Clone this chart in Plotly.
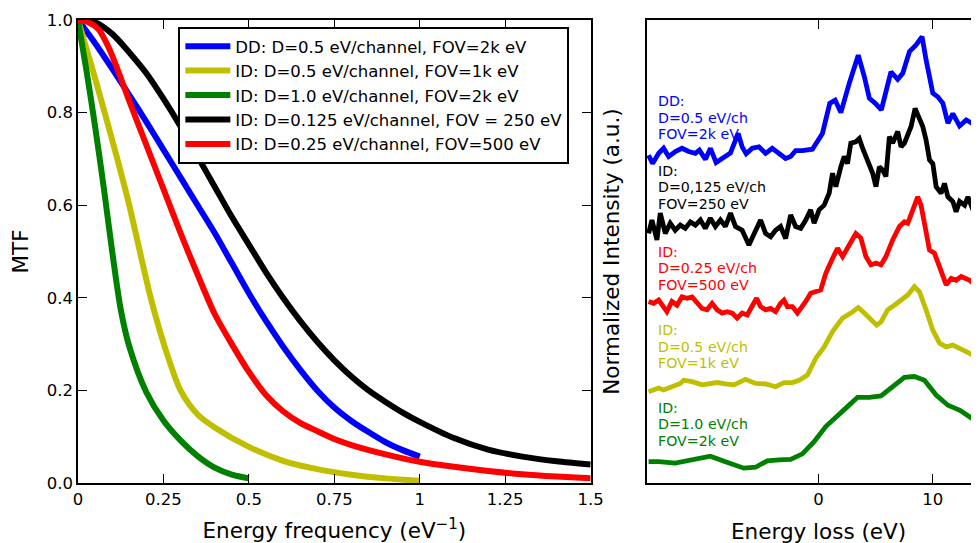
import plotly.graph_objects as go

# ---------------- Left panel: MTF vs energy frequency ----------------
labels_mtf = [
    "DD: D=0.5 eV/channel, FOV=2k eV",
    "ID: D=0.5 eV/channel, FOV=1k eV",
    "ID: D=1.0 eV/channel, FOV=2k eV",
    "ID: D=0.125 eV/channel, FOV = 250 eV",
    "ID: D=0.25 eV/channel, FOV=500 eV",
]
colors = ["#0000ff", "#bfbf00", "#008000", "#000000", "#ff0000"]

freq_dd = [0, 0.05, 0.1, 0.15, 0.2, 0.25, 0.3, 0.35, 0.4, 0.45, 0.5, 0.55, 0.6, 0.65, 0.7, 0.75, 0.8, 0.85, 0.9, 0.95, 1.0]
mtf_dd = [1.0, 0.95, 0.895, 0.838, 0.78, 0.72, 0.66, 0.6, 0.54, 0.475, 0.41, 0.35, 0.295, 0.245, 0.2, 0.163, 0.134, 0.11, 0.088, 0.071, 0.057]

freq_id05 = [0, 0.04, 0.078, 0.115, 0.15, 0.181, 0.211, 0.235, 0.26, 0.3, 0.35, 0.4, 0.5, 0.6, 0.7, 0.8, 0.9, 1.0]
mtf_id05 = [1.0, 0.9, 0.8, 0.7, 0.6, 0.5, 0.405, 0.34, 0.28, 0.2, 0.148, 0.12, 0.078, 0.048, 0.03, 0.018, 0.01, 0.005]

freq_id10 = [0, 0.025, 0.05, 0.075, 0.1, 0.125, 0.15, 0.2, 0.25, 0.3, 0.35, 0.4, 0.45, 0.5]
mtf_id10 = [1.0, 0.89, 0.77, 0.64, 0.50, 0.375, 0.295, 0.196, 0.135, 0.092, 0.058, 0.033, 0.018, 0.01]

freq_id0125 = [0, 0.05, 0.1, 0.15, 0.2, 0.25, 0.3, 0.35, 0.4, 0.45, 0.5, 0.55, 0.6, 0.65, 0.7, 0.75, 0.8, 0.85, 0.9, 0.95, 1.0, 1.1, 1.2, 1.3, 1.4, 1.5]
mtf_id0125 = [1.0, 0.995, 0.97, 0.93, 0.885, 0.83, 0.77, 0.705, 0.64, 0.575, 0.515, 0.455, 0.40, 0.35, 0.305, 0.265, 0.23, 0.2, 0.175, 0.152, 0.132, 0.097, 0.072, 0.057, 0.047, 0.04]

freq_id025 = [0, 0.03, 0.06, 0.09, 0.12, 0.15, 0.2, 0.25, 0.3, 0.35, 0.4, 0.45, 0.5, 0.55, 0.6, 0.65, 0.7, 0.75, 0.8, 0.9, 1.0, 1.1, 1.2, 1.3, 1.4, 1.5]
mtf_id025 = [1.0, 0.995, 0.98, 0.94, 0.885, 0.825, 0.73, 0.635, 0.54, 0.45, 0.365, 0.3, 0.24, 0.19, 0.155, 0.13, 0.112, 0.095, 0.082, 0.062, 0.046, 0.035, 0.026, 0.019, 0.014, 0.01]

freq_ticks = [0, 0.25, 0.5, 0.75, 1.0, 1.25, 1.5]
freq_ticktext = ["0", "0.25", "0.5", "0.75", "1", "1.25", "1.5"]
mtf_ticks = [0.0, 0.2, 0.4, 0.6, 0.8, 1.0]

# ---------------- Right panel: spectra ----------------
loss_dd = [-14.85, -14.5, -13.97, -13.54, -13.1, -12.51, -11.93, -11.35, -10.76, -10.41, -9.88, -9.44, -8.95, -8.57, -8.13, -7.69, -7.02, -6.67, -6.32, -5.79, -5.2, -4.62, -4.04, -3.45, -2.87, -2.43, -1.99, -1.4, -0.53, 0.35, 0.99, 1.46, 1.96, 2.69, 3.48, 4.01, 4.45, 4.97, 5.5, 6.34, 6.93, 7.37, 7.96, 8.54, 9.06, 9.41, 10.0, 10.44, 10.88, 11.32, 11.75, 12.34, 12.92, 13.36, 13.8, 14.3]
int_dd = [0.708, 0.690, 0.712, 0.723, 0.705, 0.716, 0.723, 0.716, 0.712, 0.719, 0.699, 0.723, 0.692, 0.698, 0.708, 0.713, 0.755, 0.726, 0.711, 0.723, 0.726, 0.712, 0.723, 0.712, 0.701, 0.705, 0.718, 0.718, 0.721, 0.755, 0.820, 0.827, 0.800, 0.863, 0.924, 0.878, 0.831, 0.820, 0.806, 0.888, 0.872, 0.885, 0.932, 0.946, 0.964, 0.914, 0.842, 0.834, 0.820, 0.777, 0.798, 0.771, 0.784, 0.778, 0.780, 0.780]

loss_id0125 = [-14.85, -14.56, -14.12, -13.83, -13.39, -12.96, -12.52, -12.08, -11.64, -11.2, -10.76, -10.32, -9.89, -9.45, -9.01, -8.57, -8.13, -7.69, -7.25, -6.67, -6.08, -5.64, -5.06, -4.62, -4.18, -3.75, -3.31, -2.87, -2.43, -1.99, -1.55, -1.11, -0.68, -0.38, 0.06, 0.5, 0.94, 1.23, 1.52, 1.96, 2.25, 2.54, 2.83, 3.27, 3.57, 3.86, 4.3, 4.74, 5.03, 5.32, 5.61, 5.9, 6.2, 6.49, 6.93, 7.22, 7.52, 7.81, 8.1, 8.45, 8.83, 9.12, 9.41, 9.71, 10.0, 10.29, 10.73, 11.02, 11.32, 11.75, 12.04, 12.34, 12.78, 13.07, 13.51, 13.95, 14.3]
int_id0125 = [0.539, 0.568, 0.525, 0.583, 0.539, 0.561, 0.546, 0.557, 0.550, 0.564, 0.557, 0.568, 0.550, 0.572, 0.554, 0.568, 0.554, 0.583, 0.554, 0.546, 0.514, 0.539, 0.568, 0.539, 0.532, 0.546, 0.554, 0.528, 0.579, 0.554, 0.550, 0.568, 0.590, 0.561, 0.590, 0.600, 0.626, 0.669, 0.640, 0.683, 0.705, 0.690, 0.734, 0.737, 0.744, 0.723, 0.698, 0.669, 0.640, 0.683, 0.676, 0.662, 0.748, 0.734, 0.759, 0.726, 0.734, 0.755, 0.770, 0.809, 0.784, 0.770, 0.741, 0.698, 0.690, 0.640, 0.626, 0.647, 0.618, 0.608, 0.586, 0.608, 0.600, 0.618, 0.590, 0.611, 0.626]

loss_id025 = [-14.85, -14.41, -13.97, -13.54, -13.25, -12.81, -12.37, -11.93, -11.49, -11.05, -10.61, -10.18, -9.74, -9.3, -8.86, -8.42, -7.98, -7.54, -7.11, -6.67, -6.23, -5.79, -5.41, -5.06, -4.62, -4.18, -3.75, -3.31, -3.01, -2.72, -2.28, -1.84, -1.4, -1.11, -0.68, -0.24, 0.2, 0.64, 0.94, 1.23, 1.67, 2.11, 2.69, 3.27, 3.71, 4.15, 4.59, 5.03, 5.47, 5.9, 6.49, 7.08, 7.52, 7.81, 8.25, 8.68, 8.97, 9.27, 9.71, 10.15, 10.44, 10.88, 11.17, 11.61, 12.04, 12.48, 12.92, 13.22, 13.66, 13.95, 14.3]
int_id025 = [0.392, 0.388, 0.395, 0.381, 0.370, 0.392, 0.384, 0.402, 0.399, 0.402, 0.388, 0.377, 0.374, 0.388, 0.374, 0.367, 0.370, 0.367, 0.356, 0.367, 0.363, 0.381, 0.399, 0.381, 0.374, 0.377, 0.370, 0.388, 0.395, 0.381, 0.381, 0.367, 0.381, 0.392, 0.410, 0.413, 0.417, 0.453, 0.467, 0.485, 0.507, 0.489, 0.514, 0.539, 0.529, 0.489, 0.471, 0.475, 0.471, 0.489, 0.525, 0.554, 0.564, 0.561, 0.590, 0.618, 0.600, 0.561, 0.503, 0.496, 0.475, 0.446, 0.428, 0.442, 0.438, 0.446, 0.442, 0.438, 0.428, 0.431, 0.431]

loss_id05 = [-14.85, -13.97, -13.54, -12.81, -12.08, -11.78, -11.05, -10.18, -9.59, -8.86, -8.13, -7.39, -6.38, -5.5, -4.62, -3.75, -3.01, -2.28, -1.69, -0.96, -0.24, 0.5, 1.23, 2.11, 2.83, 3.48, 4.01, 4.59, 5.09, 5.47, 6.05, 6.64, 7.22, 7.81, 8.39, 8.83, 9.41, 10.0, 10.59, 11.17, 11.75, 12.34, 13.22, 13.95, 14.3]
int_id05 = [0.197, 0.205, 0.201, 0.208, 0.215, 0.222, 0.219, 0.212, 0.214, 0.217, 0.214, 0.212, 0.224, 0.215, 0.214, 0.208, 0.217, 0.217, 0.222, 0.233, 0.269, 0.294, 0.327, 0.356, 0.367, 0.379, 0.367, 0.352, 0.341, 0.348, 0.374, 0.384, 0.395, 0.406, 0.424, 0.413, 0.374, 0.330, 0.302, 0.294, 0.298, 0.291, 0.280, 0.269, 0.273]

loss_id10 = [-14.85, -13.97, -12.52, -11.05, -9.45, -8.13, -6.52, -5.5, -4.47, -3.45, -2.43, -1.4, -0.38, 0.64, 1.67, 2.54, 3.42, 4.45, 5.47, 6.49, 7.52, 8.39, 9.27, 10.29, 11.32, 12.37, 13.36, 14.3]
int_id10 = [0.046, 0.046, 0.043, 0.051, 0.058, 0.046, 0.032, 0.034, 0.048, 0.050, 0.051, 0.063, 0.089, 0.122, 0.147, 0.165, 0.185, 0.185, 0.188, 0.208, 0.228, 0.230, 0.222, 0.190, 0.168, 0.157, 0.140, 0.125]

spec_labels = [
    ["DD:", "D=0.5 eV/ch", "FOV=2k eV"],
    ["ID:", "D=0,125 eV/ch", "FOV=250 eV"],
    ["ID:", "D=0.25 eV/ch", "FOV=500 eV"],
    ["ID:", "D=0.5 eV/ch", "FOV=1k eV"],
    ["ID:", "D=1.0 eV/ch", "FOV=2k eV"],
]
spec_colors = ["#0000ff", "#000000", "#ff0000", "#bfbf00", "#008000"]
spec_label_y = [0.789, 0.639, 0.464, 0.294, 0.127]
loss_ticks = [0, 10]

FONT = "DejaVu Sans"
fig = go.Figure()

left_series = [
    (freq_dd, mtf_dd), (freq_id05, mtf_id05), (freq_id10, mtf_id10),
    (freq_id0125, mtf_id0125), (freq_id025, mtf_id025),
]
for (xs, ys), name, c in zip(left_series, labels_mtf, colors):
    fig.add_trace(go.Scatter(x=xs, y=ys, mode="lines", name=name,
                             line=dict(color=c, width=6, shape="spline", smoothing=0.8),
                             xaxis="x", yaxis="y"))

right_series = [
    (loss_dd, int_dd), (loss_id0125, int_id0125), (loss_id025, int_id025),
    (loss_id05, int_id05), (loss_id10, int_id10),
]
for (xs, ys), c in zip(right_series, spec_colors):
    fig.add_trace(go.Scatter(x=xs, y=ys, mode="lines", showlegend=False,
                             line=dict(color=c, width=4.8),
                             xaxis="x2", yaxis="y2"))

LINE_STEP = 16.5 / 463.0  # one text line, in y2 units
for lines, c, yc in zip(spec_labels, spec_colors, spec_label_y):
    for i, txt in enumerate(lines):
        fig.add_annotation(x=-14.2, y=yc + (1 - i) * LINE_STEP, xref="x2", yref="y2",
                           text=txt, showarrow=False, xanchor="left", yanchor="middle",
                           align="left", font=dict(family=FONT, size=14.2, color=c))

axis_common = dict(showline=True, linecolor="black", linewidth=1.5, ticks="inside",
                   ticklen=9, tickwidth=1.2, tickcolor="black", showgrid=False,
                   zeroline=False, tickfont=dict(family=FONT, size=16.5, color="black"))
TITLE_FONT = dict(family=FONT, size=21.5, color="black")

# x-axis title of the spectra panel, centred on 0 eV as in the original (panel is cropped at right)
fig.add_annotation(x=0, y=0, xref="x2", yref="paper", yshift=-48, text="Energy loss (eV)",
                   showarrow=False, xanchor="center", yanchor="middle", font=TITLE_FONT)

fig.update_layout(
    width=987, height=535, autosize=False,
    margin=dict(l=70, r=0, t=12, b=60),
    paper_bgcolor="white", plot_bgcolor="white",
    font=dict(family=FONT, color="black"),
    xaxis=dict(domain=[0, 0.5671], range=[0, 1.5], anchor="y", mirror="ticks",
               tickvals=freq_ticks, ticktext=freq_ticktext,
               title=dict(text="Energy frequency (eV<sup>−1</sup>)", font=TITLE_FONT, standoff=16),
               **axis_common),
    yaxis=dict(domain=[0, 1], range=[0, 1], anchor="x", mirror="ticks",
               tickvals=mtf_ticks, tickformat=".1f",
               title=dict(text="MTF", font=TITLE_FONT, standoff=16),
               **axis_common),
    xaxis2=dict(domain=[0.6293, 1], range=[-15, 14.3], anchor="y2", mirror="ticks",
                tickvals=loss_ticks,
                **axis_common),
    yaxis2=dict(domain=[0, 1], range=[0, 1], anchor="x2", mirror=False,
                tickvals=[], showticklabels=False,
                title=dict(text="Normalized Intensity (a.u.)", font=TITLE_FONT, standoff=20),
                **axis_common),
    yaxis3=dict(overlaying="y2", anchor="x2", side="right", range=[0, 1],
                showline=False, showgrid=False, zeroline=False, ticks="inside",
                ticklen=3, tickwidth=1.2, tickcolor="black", tickvals=[0.05],
                showticklabels=False),
    legend=dict(x=0.111, y=0.985, xanchor="left", yanchor="top",
                bgcolor="white", bordercolor="black", borderwidth=2,
                itemwidth=45, font=dict(family=FONT, size=16.5, color="black")),
)

fig.write_html("out.html", config={"responsive": False})
